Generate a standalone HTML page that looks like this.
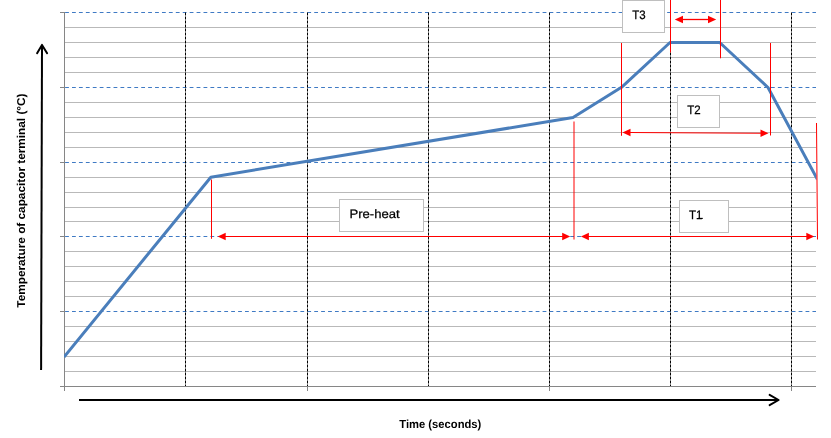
<!DOCTYPE html>
<html><head><meta charset="utf-8"><title>Reflow profile</title>
<style>
html,body{margin:0;padding:0;background:#fff;}
body{width:831px;height:438px;overflow:hidden;font-family:"Liberation Sans",sans-serif;}
svg{display:block;}
text{font-family:"Liberation Sans",sans-serif;fill:#000;text-rendering:geometricPrecision;}
svg{will-change:transform;}
</style></head><body>
<svg width="831" height="438" viewBox="0 0 831 438">
<rect x="0" y="0" width="831" height="438" fill="#ffffff"/>
<g stroke="#b9b9b9" stroke-width="1" shape-rendering="crispEdges">
<line x1="64.5" y1="27.5" x2="816.0" y2="27.5"/>
<line x1="64.5" y1="42.5" x2="816.0" y2="42.5"/>
<line x1="64.5" y1="57.5" x2="816.0" y2="57.5"/>
<line x1="64.5" y1="72.5" x2="816.0" y2="72.5"/>
<line x1="64.5" y1="102.5" x2="816.0" y2="102.5"/>
<line x1="64.5" y1="117.5" x2="816.0" y2="117.5"/>
<line x1="64.5" y1="132.5" x2="816.0" y2="132.5"/>
<line x1="64.5" y1="147.5" x2="816.0" y2="147.5"/>
<line x1="64.5" y1="177.5" x2="816.0" y2="177.5"/>
<line x1="64.5" y1="192.5" x2="816.0" y2="192.5"/>
<line x1="64.5" y1="207.5" x2="816.0" y2="207.5"/>
<line x1="64.5" y1="221.5" x2="816.0" y2="221.5"/>
<line x1="64.5" y1="251.5" x2="816.0" y2="251.5"/>
<line x1="64.5" y1="266.5" x2="816.0" y2="266.5"/>
<line x1="64.5" y1="281.5" x2="816.0" y2="281.5"/>
<line x1="64.5" y1="296.5" x2="816.0" y2="296.5"/>
<line x1="64.5" y1="326.5" x2="816.0" y2="326.5"/>
<line x1="64.5" y1="341.5" x2="816.0" y2="341.5"/>
<line x1="64.5" y1="356.5" x2="816.0" y2="356.5"/>
<line x1="64.5" y1="371.5" x2="816.0" y2="371.5"/>
</g>
<g stroke="#3f7ac4" stroke-width="1" stroke-dasharray="3.8 3.12">
<line x1="65.1" y1="12.5" x2="816.0" y2="12.5"/>
<line x1="65.1" y1="87.5" x2="816.0" y2="87.5"/>
<line x1="65.1" y1="162.5" x2="816.0" y2="162.5"/>
<line x1="65.1" y1="236.5" x2="816.0" y2="236.5"/>
<line x1="65.1" y1="311.5" x2="816.0" y2="311.5"/>
</g>
<g stroke="#000000" stroke-width="1" stroke-dasharray="3 1">
<line x1="185.5" y1="12.5" x2="185.5" y2="386.5"/>
<line x1="307.5" y1="12.5" x2="307.5" y2="386.5"/>
<line x1="428.5" y1="12.5" x2="428.5" y2="386.5"/>
<line x1="549.5" y1="12.5" x2="549.5" y2="386.5"/>
<line x1="670.5" y1="12.5" x2="670.5" y2="386.5"/>
<line x1="791.5" y1="12.5" x2="791.5" y2="386.5"/>
</g>
<g stroke="#868686" stroke-width="1" shape-rendering="crispEdges">
<line x1="64.5" y1="12.0" x2="64.5" y2="390.5"/>
<line x1="60.0" y1="386.5" x2="816.0" y2="386.5"/>
<line x1="60.0" y1="12.5" x2="64.5" y2="12.5"/>
<line x1="60.0" y1="87.5" x2="64.5" y2="87.5"/>
<line x1="60.0" y1="162.5" x2="64.5" y2="162.5"/>
<line x1="60.0" y1="236.5" x2="64.5" y2="236.5"/>
<line x1="60.0" y1="311.5" x2="64.5" y2="311.5"/>
<line x1="307.5" y1="386.5" x2="307.5" y2="390.5"/>
<line x1="549.5" y1="386.5" x2="549.5" y2="390.5"/>
<line x1="791.5" y1="386.5" x2="791.5" y2="390.5"/>
</g>
<clipPath id="plot"><rect x="64.0" y="0" width="752.5" height="390"/></clipPath>
<polyline clip-path="url(#plot)" fill="none" stroke="#4a7ebb" stroke-width="3" stroke-linejoin="round" points="64.0,357.0 210.8,177.2 573,117.5 621.5,87.3 670,42.5 719.7,42.5 768,87.5 817.5,179.55"/>
<rect x="622.5" y="0.5" width="42" height="32" fill="#ffffff" stroke="#bfbfbf" stroke-width="1" shape-rendering="crispEdges"/>
<text x="632.3" y="18.8" font-size="12.2" textLength="13.4" lengthAdjust="spacingAndGlyphs" stroke="#000" stroke-width="0.25">T3</text>
<rect x="677.5" y="95.5" width="42" height="32" fill="#ffffff" stroke="#bfbfbf" stroke-width="1" shape-rendering="crispEdges"/>
<text x="687.3" y="113.9" font-size="12.2" textLength="13.4" lengthAdjust="spacingAndGlyphs" stroke="#000" stroke-width="0.25">T2</text>
<rect x="679.5" y="200.5" width="49" height="32" fill="#ffffff" stroke="#bfbfbf" stroke-width="1" shape-rendering="crispEdges"/>
<text x="689.1" y="218.9" font-size="12.2" textLength="13.4" lengthAdjust="spacingAndGlyphs" stroke="#000" stroke-width="0.25">T1</text>
<rect x="339.5" y="199.5" width="84" height="32" fill="#ffffff" stroke="#bfbfbf" stroke-width="1" shape-rendering="crispEdges"/>
<text x="349.5" y="217.7" font-size="12.2" textLength="50.2" lengthAdjust="spacingAndGlyphs" stroke="#000" stroke-width="0.25">Pre-heat</text>
<line x1="697.8" y1="218.4" x2="702.8" y2="218.4" stroke="#000" stroke-width="1.1"/>
<g stroke="#ff0000" stroke-width="1" fill="none">
<line x1="211.5" y1="179.5" x2="211.5" y2="238.8"/>
<line x1="574" y1="121.5" x2="574" y2="239.5"/>
<line x1="621.5" y1="43" x2="621.5" y2="135.8"/>
<line x1="770.5" y1="43" x2="770.5" y2="135.5"/>
<line x1="670.5" y1="0" x2="670.5" y2="52.5"/>
<line x1="720.5" y1="0" x2="720.5" y2="58.3"/>
<line x1="816.5" y1="123" x2="817.5" y2="239.5"/>
</g>
<line x1="224.10" y1="236.50" x2="563.80" y2="236.50" stroke="#ff0000" stroke-width="1.1"/>
<polygon fill="#ff0000" points="217.70,236.50 225.70,240.20 225.70,232.80"/>
<polygon fill="#ff0000" points="570.20,236.50 562.20,240.20 562.20,232.80"/>
<line x1="587.30" y1="236.50" x2="807.90" y2="236.50" stroke="#ff0000" stroke-width="1.1"/>
<polygon fill="#ff0000" points="580.90,236.50 588.90,240.20 588.90,232.80"/>
<polygon fill="#ff0000" points="814.30,236.50 806.30,240.20 806.30,232.80"/>
<line x1="628.90" y1="132.54" x2="762.10" y2="133.26" stroke="#ff0000" stroke-width="1.1"/>
<polygon fill="#ff0000" points="622.50,132.50 630.48,136.24 630.52,128.84"/>
<polygon fill="#ff0000" points="768.50,133.30 760.48,136.96 760.52,129.56"/>
<line x1="681.36" y1="19.50" x2="709.64" y2="19.50" stroke="#ff0000" stroke-width="1.3"/>
<polygon fill="#ff0000" points="674.80,19.50 683.00,23.35 683.00,15.65"/>
<polygon fill="#ff0000" points="716.20,19.50 708.00,23.35 708.00,15.65"/>
<g stroke="#000000" stroke-width="2" fill="none" stroke-linecap="round" stroke-linejoin="round">
<line x1="41.1" y1="370" x2="42" y2="45.5" stroke-linecap="butt"/>
<polyline points="37.1,53.2 42,44.9 47.1,53.2"/>
<line x1="79" y1="400" x2="778" y2="400" stroke-linecap="butt"/>
<polyline points="769.6,394.9 778.6,400 769.6,405.1"/>
</g>
<text x="399.3" y="427.9" font-size="11.6" font-weight="bold" textLength="82" lengthAdjust="spacingAndGlyphs">Time (seconds)</text>
<text transform="translate(24.5,307.7) rotate(-90)" font-size="11.4" font-weight="bold" textLength="214.2" lengthAdjust="spacingAndGlyphs">Temperature of capacitor terminal (°C)</text>
</svg>
</body></html>
